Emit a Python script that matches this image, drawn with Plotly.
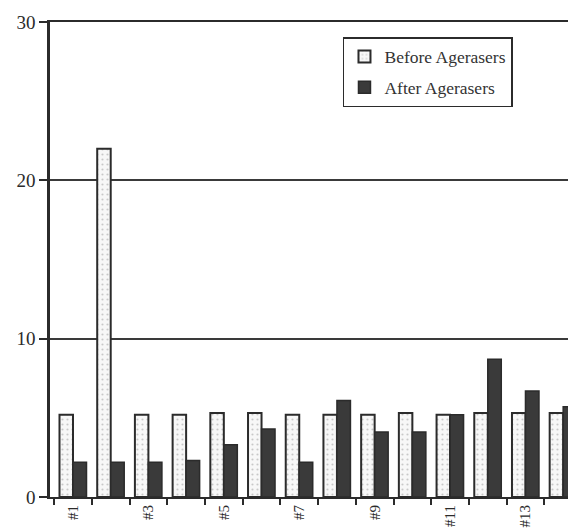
import plotly.graph_objects as go

categories = list(range(1, 15))
tick_labels = ["#1", "#3", "#5", "#7", "#9", "#11", "#13"]
tick_positions = [1, 3, 5, 7, 9, 11, 13]
before = [5.2, 22.0, 5.2, 5.2, 5.3, 5.3, 5.2, 5.2, 5.2, 5.3, 5.2, 5.3, 5.3, 5.3]
after = [2.2, 2.2, 2.2, 2.3, 3.3, 4.3, 2.2, 6.1, 4.1, 4.1, 5.2, 8.7, 6.7, 5.7]

FONT = "Liberation Serif"
INK = "#2b2b2b"

fig = go.Figure()
fig.add_trace(go.Bar(
    x=categories, y=before, name="Before Agerasers", legendgroup="a",
    marker=dict(color="#f7f7f7", line=dict(color=INK, width=2),
                pattern=dict(shape=".", fgcolor="#9a9a9a", bgcolor="#f7f7f7", size=5, solidity=0.15)),
))
fig.add_trace(go.Bar(
    x=categories, y=after, name="After Agerasers", legendgroup="b",
    marker=dict(color="#3a3a3a", line=dict(color=INK, width=1.5)),
))

fig.update_layout(
    width=568, height=522,
    margin=dict(l=42, r=0, t=14, b=33),
    paper_bgcolor="white", plot_bgcolor="white",
    barmode="group", bargap=0.284, bargroupgap=0.0,
    font=dict(family=FONT, color=INK),
    legend=dict(x=0.557, y=0.968, xanchor="left", yanchor="top",
                bordercolor=INK, borderwidth=1.5, bgcolor="white",
                font=dict(family=FONT, size=17.5, color="#333"),
                tracegroupgap=5, traceorder="grouped"),
    xaxis=dict(range=[0.39, 14.34], showline=True, linecolor=INK, linewidth=2, mirror=True,
               automargin=False,
               tickmode="array", tickvals=tick_positions, ticktext=tick_labels,
               ticks="", tickangle=-90, tickfont=dict(family=FONT, size=15, color=INK),
               showgrid=False, zeroline=False,
               minor=dict(tick0=0.5, dtick=1, ticks="outside", ticklen=6, tickwidth=2, tickcolor=INK)),
    yaxis=dict(range=[0, 30], tickvals=[0, 10, 20, 30], showline=True, linecolor=INK, linewidth=2.5,
               automargin=False,
               ticks="outside", ticklen=8, tickwidth=2, tickcolor=INK,
               tickfont=dict(family=FONT, size=19, color=INK),
               showgrid=True, gridcolor="#3a3a3a", gridwidth=1.5, zeroline=False),
)

fig.write_html("out.html")
